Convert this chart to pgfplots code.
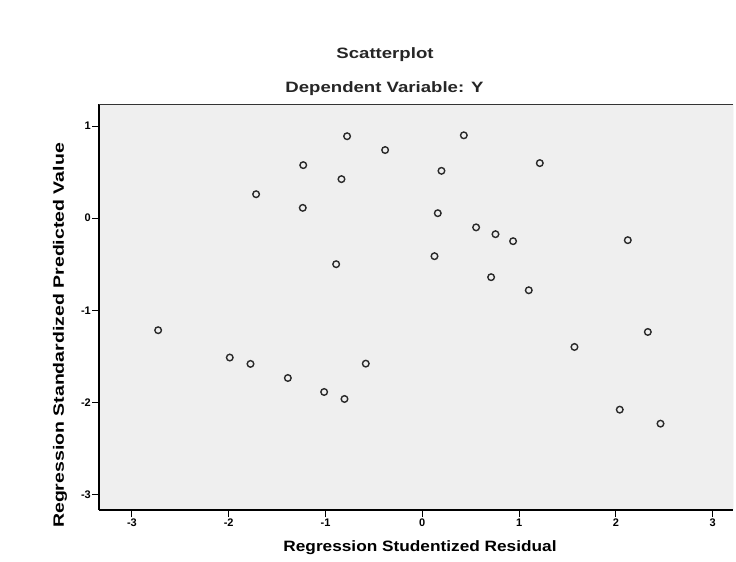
\documentclass[border=0pt]{standalone}
\usepackage{fontspec}
\setmainfont{Liberation Sans}
\usepackage{graphicx}
\usepackage{pgfplots}
\pgfplotsset{compat=1.18}
\definecolor{bgc}{HTML}{EFEFEF}
\definecolor{mk}{HTML}{2A2A2A}
\begin{document}
\begin{tikzpicture}[x=1pt,y=1pt]
\path[use as bounding box] (0,0) rectangle (736,-562);
\begin{axis}[at={(99pt,-104pt)}, anchor=north west, scale only axis,
  width=634pt, height=406pt,
  xmin=-3.34, xmax=3.21, ymin=-3.17, ymax=1.24,
  xtick={-3,-2,-1,0,1,2,3}, ytick={-3,-2,-1,0,1},
  axis x line*=bottom, axis y line*=left,
  axis line style={black, line width=1.3pt, -},
  tick align=outside, major tick length=7pt,
  tick style={black, line width=0.9pt},
  /pgf/number format/assume math mode=true,
  xticklabel style={font=\fontsize{11}{12}\selectfont\bfseries, inner sep=1pt, yshift=-1pt},
  yticklabel style={font=\fontsize{11}{12}\selectfont\bfseries, inner sep=1pt},
  axis background/.style={fill=bgc},
]
\draw[black!80, line width=1pt] (rel axis cs:0,1) -- (rel axis cs:1,1);
\draw[black!25, line width=0.8pt] (rel axis cs:1,0) -- (rel axis cs:1,1);
\addplot[only marks, mark=o, mark size=3.3pt, mark options={draw=mk, line width=1.4pt}] coordinates {
(-0.777,0.89) (-1.23,0.576) (-0.835,0.424) (-1.717,0.26) (-1.235,0.112)
(-0.89,-0.5) (-0.384,0.74) (0.429,0.90) (0.198,0.514) (1.214,0.598)
(0.16,0.054) (0.556,-0.10) (0.756,-0.174) (0.938,-0.25) (2.123,-0.239)
(0.126,-0.413) (0.711,-0.641) (1.10,-0.783)
(-2.729,-1.217) (-1.989,-1.514) (-1.775,-1.583) (-1.389,-1.736)
(-1.014,-1.888) (-0.804,-1.964) (-0.584,-1.58)
(1.572,-1.399) (2.33,-1.236) (2.04,-2.08) (2.461,-2.232)
};
\end{axis}
\node[font=\fontsize{15}{16}\selectfont\bfseries, text=black!85] at (385,-55) {\scalebox{1.24}[1]{Scatterplot}};
\node[font=\fontsize{15}{16}\selectfont\bfseries, text=black!85] at (384.5,-88.5) {\scalebox{1.24}[1]{Dependent Variable: Y}};
\node[font=\fontsize{15}{16}\selectfont\bfseries] at (420,-548) {\scalebox{1.15}[1]{Regression Studentized Residual}};
\node[font=\fontsize{15}{16}\selectfont\bfseries, rotate=90] at (60,-335.5) {\scalebox{1.3}[1]{Regression Standardized Predicted Value}};
\end{tikzpicture}
\end{document}
